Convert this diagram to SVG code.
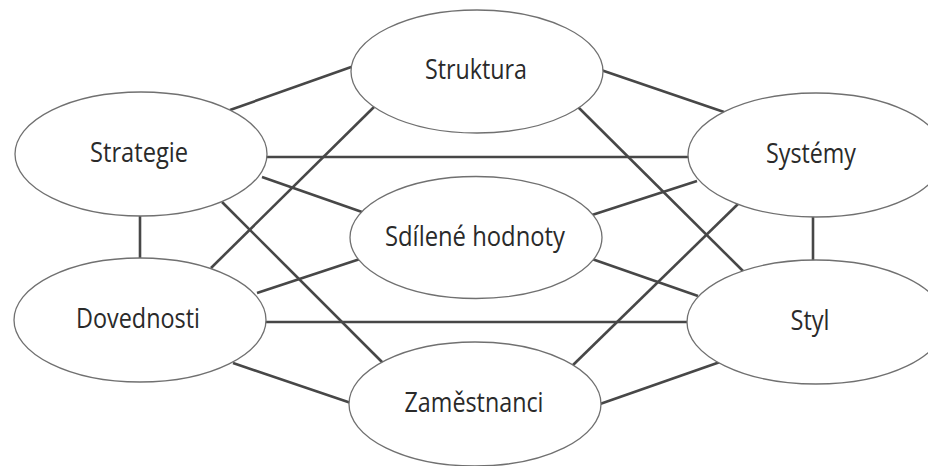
<svg xmlns="http://www.w3.org/2000/svg" width="928" height="466" viewBox="0 0 928 466">
<style>
.c line{stroke:#474747;stroke-width:2.6;stroke-linecap:butt}
.n ellipse{fill:#fff;stroke:#707070;stroke-width:1.3}
.n text{font-family:"Open Sans","Noto Sans",sans-serif;font-size:27px;fill:#2a2a2a;text-anchor:middle}
</style>
<rect width="928" height="466" fill="#fff"/>
<g id="connectors" class="c">
<line x1="230" y1="110" x2="354" y2="66"/>
<line x1="265" y1="157" x2="690" y2="157"/>
<line x1="262" y1="177" x2="362" y2="212"/>
<line x1="222" y1="202" x2="383" y2="363"/>
<line x1="140" y1="214" x2="140" y2="260"/>
<line x1="211" y1="268" x2="374" y2="107"/>
<line x1="257" y1="293" x2="360" y2="259"/>
<line x1="264" y1="322" x2="689" y2="322"/>
<line x1="233" y1="363" x2="351" y2="403"/>
<line x1="601" y1="70" x2="724" y2="112"/>
<line x1="578" y1="107" x2="743" y2="271"/>
<line x1="697" y1="181" x2="592" y2="215"/>
<line x1="738" y1="204" x2="572" y2="366"/>
<line x1="813" y1="215" x2="813" y2="262"/>
<line x1="592" y1="259" x2="698" y2="296"/>
<line x1="720" y1="362" x2="600" y2="404"/>
</g>
<g id="struktura" class="n"><ellipse cx="477" cy="71.5" rx="126" ry="61.5"/><text x="476" y="79" textLength="102" lengthAdjust="spacingAndGlyphs">Struktura</text></g>
<g id="strategie" class="n"><ellipse cx="141" cy="154" rx="126" ry="62"/><text x="139" y="162" textLength="98" lengthAdjust="spacingAndGlyphs">Strategie</text></g>
<g id="systemy" class="n"><ellipse cx="816" cy="155" rx="128" ry="62"/><text x="811" y="163" textLength="90" lengthAdjust="spacingAndGlyphs">Systémy</text></g>
<g id="sdilene-hodnoty" class="n"><ellipse cx="476" cy="237.5" rx="126" ry="61"/><text x="475" y="246" textLength="180" lengthAdjust="spacingAndGlyphs">Sdílené hodnoty</text></g>
<g id="dovednosti" class="n"><ellipse cx="140" cy="320" rx="126" ry="62"/><text x="138" y="328" textLength="124" lengthAdjust="spacingAndGlyphs">Dovednosti</text></g>
<g id="styl" class="n"><ellipse cx="816" cy="322" rx="129" ry="62"/><text x="810" y="330" textLength="39" lengthAdjust="spacingAndGlyphs">Styl</text></g>
<g id="zamestnanci" class="n"><ellipse cx="475" cy="404" rx="126" ry="62"/><text x="474" y="412" textLength="139" lengthAdjust="spacingAndGlyphs">Zaměstnanci</text></g>
</svg>
